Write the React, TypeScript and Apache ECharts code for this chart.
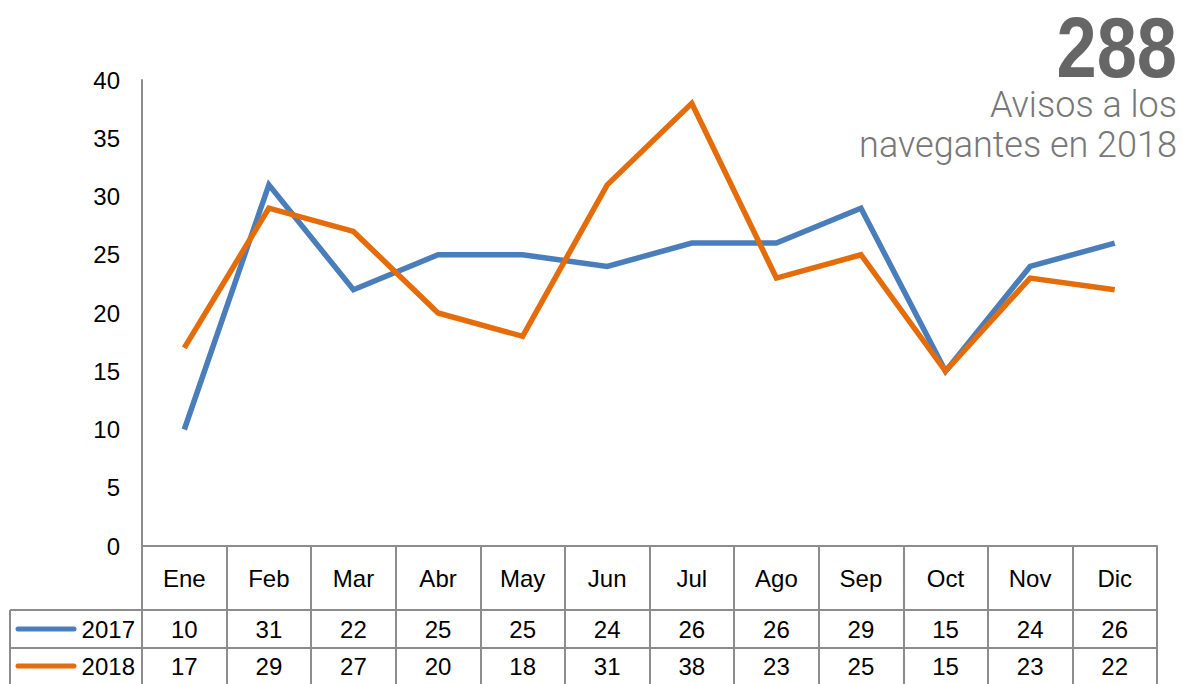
import React, { useEffect, useRef } from "react";
import * as echarts from "echarts";

const months = ["Ene", "Feb", "Mar", "Abr", "May", "Jun", "Jul", "Ago", "Sep", "Oct", "Nov", "Dic"];
const seriesNames = ["2017", "2018"];
const values2017 = [10, 31, 22, 25, 25, 24, 26, 26, 29, 15, 24, 26];
const values2018 = [17, 29, 27, 20, 18, 31, 38, 23, 25, 15, 23, 22];
const colors = ["#4a7ebb", "#e46c0a"];
const yTicks = { min: 0, max: 40, interval: 5 };
const bigNumber = "288";
const subtitle = "Avisos a los\nnavegantes en 2018";

const W = 1183;
const H = 684;
const GRID_LEFT = 142;
const GRID_RIGHT = 1157;
const GRID_TOP = 80;
const AXIS_Y = 546;
const ROW1 = 610;
const ROW2 = 648;
const LINE_GRAY = "#8c8c8c";

export default function App() {
  const ref = useRef<HTMLDivElement>(null);
  useEffect(() => {
    if (!ref.current) return;
    const chart = echarts.init(ref.current, undefined, { renderer: "svg" });
    const font = "Liberation Sans, Arial, Helvetica, sans-serif";
    const rows = [values2017, values2018];
    const rowCenters = [629, 666];
    const hiddenAxis = (data: string[], margin: number) => ({
      type: "category",
      data,
      position: "bottom",
      boundaryGap: true,
      axisLine: { show: false },
      axisTick: { show: false },
      splitLine: { show: false },
      axisLabel: {
        color: "#000",
        fontSize: 24,
        fontFamily: font,
        margin,
        verticalAlign: "middle",
        interval: 0,
      },
    });
    const legendGraphics: any[] = [];
    seriesNames.forEach((name, i) => {
      legendGraphics.push({
        type: "line",
        shape: { x1: 18, y1: rowCenters[i], x2: 74, y2: rowCenters[i] },
        style: { stroke: colors[i], lineWidth: 5, lineCap: "round" },
      });
      legendGraphics.push({
        type: "text",
        x: 135,
        y: rowCenters[i],
        style: {
          text: name,
          fill: "#000",
          font: `24px ${font}`,
          textAlign: "right",
          textVerticalAlign: "middle",
        },
      });
    });
    chart.setOption({
      animation: false,
      backgroundColor: "#fff",
      grid: {
        left: GRID_LEFT,
        right: W - GRID_RIGHT,
        top: GRID_TOP,
        bottom: H - AXIS_Y,
        containLabel: false,
      },
      xAxis: [
        {
          type: "category",
          data: months,
          boundaryGap: true,
          axisLine: { show: true, lineStyle: { color: LINE_GRAY, width: 2 } },
          axisTick: {
            show: true,
            length: H - AXIS_Y,
            lineStyle: { color: LINE_GRAY, width: 2 },
            interval: 0,
          },
          axisLabel: {
            color: "#000",
            fontSize: 24,
            fontFamily: font,
            margin: 32,
            verticalAlign: "middle",
            interval: 0,
          },
          splitLine: { show: false },
        },
        hiddenAxis(values2017.map(String), rowCenters[0] - AXIS_Y),
        hiddenAxis(values2018.map(String), rowCenters[1] - AXIS_Y),
      ],
      yAxis: {
        type: "value",
        min: yTicks.min,
        max: yTicks.max,
        interval: yTicks.interval,
        axisLine: { show: true, lineStyle: { color: LINE_GRAY, width: 2 } },
        axisTick: { show: false },
        splitLine: { show: false },
        axisLabel: { color: "#000", fontSize: 24, fontFamily: font, margin: 22 },
      },
      series: seriesNames.map((name, i) => ({
        name,
        type: "line",
        data: rows[i],
        xAxisIndex: 0,
        symbol: "none",
        lineStyle: { color: colors[i], width: 5.5, join: "miter" },
        itemStyle: { color: colors[i] },
        z: 2 + i,
      })),
      graphic: [
        {
          type: "line",
          shape: { x1: 10, y1: ROW1, x2: GRID_RIGHT, y2: ROW1 },
          style: { stroke: LINE_GRAY, lineWidth: 2 },
        },
        {
          type: "line",
          shape: { x1: 10, y1: ROW2, x2: GRID_RIGHT, y2: ROW2 },
          style: { stroke: LINE_GRAY, lineWidth: 2 },
        },
        {
          type: "line",
          shape: { x1: 10, y1: ROW1, x2: 10, y2: H },
          style: { stroke: LINE_GRAY, lineWidth: 2 },
        },
        ...legendGraphics,
        {
          type: "text",
          x: 1177,
          y: 47,
          scaleX: 0.84,
          style: {
            text: bigNumber,
            fill: "#666666",
            font: `bold 86px "Liberation Sans", Arial, sans-serif`,
            textAlign: "right",
            textVerticalAlign: "middle",
          },
        },
        {
          type: "text",
          x: 1177,
          y: 85,
          style: {
            text: subtitle,
            fill: "#777777",
            font: `300 36px Roboto, sans-serif`,
            lineHeight: 40,
            textAlign: "right",
            textVerticalAlign: "top",
          },
        },
      ],
    });
    return () => chart.dispose();
  }, []);
  return <div ref={ref} style={{ width: W, height: H, position: "absolute", left: 0, top: 0 }} />;
}
